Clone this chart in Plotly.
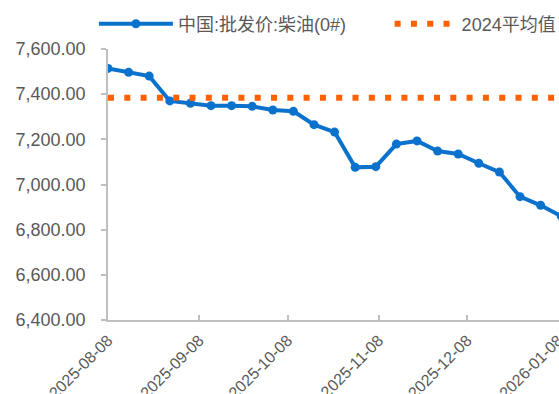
import plotly.graph_objects as go

# ---- data ----
dates = [
    "2025-08-08", "2025-08-15", "2025-08-22", "2025-08-29", "2025-09-05",
    "2025-09-12", "2025-09-19", "2025-09-26", "2025-10-03", "2025-10-10",
    "2025-10-17", "2025-10-24", "2025-10-31", "2025-11-07", "2025-11-14",
    "2025-11-21", "2025-11-28", "2025-12-05", "2025-12-12", "2025-12-19",
    "2025-12-26", "2026-01-02", "2026-01-09",
]
diesel = [
    7514, 7497, 7480, 7370, 7360,
    7349, 7349, 7346, 7330, 7324,
    7265, 7232, 7076, 7079, 7179,
    7193, 7148, 7135, 7094, 7055,
    6946, 6908, 6860,
]
avg_2024 = 7384
avg_dates = [dates[0], dates[-1]]
avg_values = [avg_2024, avg_2024]

series_name = "中国:批发价:柴油(0#)"
avg_name = "2024平均值"

BLUE = "#0A72CC"
ORANGE = "#FF6100"
GRAY_TXT = "#595959"
AXIS = "#BFBFBF"
FONT = "Liberation Sans, Arial, Noto Sans CJK SC, sans-serif"

fig = go.Figure()
fig.add_trace(go.Scatter(
    x=dates, y=diesel, name=series_name, mode="lines+markers",
    line=dict(color=BLUE, width=4),
    marker=dict(color=BLUE, size=9),
    legend="legend",
))
fig.add_trace(go.Scatter(
    x=avg_dates, y=avg_values, name=avg_name, mode="lines",
    line=dict(color=ORANGE, width=6, dash="6px,10.3px"),
    legend="legend2",
))

fig.update_layout(
    width=559, height=394,
    margin=dict(l=108, r=0, t=49, b=74, autoexpand=False),
    paper_bgcolor="white", plot_bgcolor="white",
    font=dict(family=FONT, size=18, color=GRAY_TXT),
    showlegend=True,
    legend=dict(
        orientation="h", xref="container", yref="container",
        x=0.168, y=1 - 24 / 394, xanchor="left", yanchor="middle",
        font=dict(size=18, color=GRAY_TXT), itemwidth=74,
        bgcolor="rgba(0,0,0,0)",
    ),
    legend2=dict(
        orientation="h", xref="container", yref="container",
        x=0.697, y=1 - 24 / 394, xanchor="left", yanchor="middle",
        font=dict(size=18, color=GRAY_TXT), itemwidth=62,
        bgcolor="rgba(0,0,0,0)",
    ),
    xaxis=dict(
        type="date",
        range=["2025-08-08", "2026-01-08 06:00"],
        tick0="2025-08-08", dtick="M1", tickformat="%Y-%m-%d",
        tickangle=-45, tickfont=dict(size=16, color=GRAY_TXT),
        ticks="inside", ticklen=5, tickcolor=AXIS, tickwidth=1.5,
        ticklabelstandoff=3, ticklabeloverflow="allow",
        showline=True, linecolor=AXIS, linewidth=1.5,
        showgrid=False, zeroline=False, automargin=False,
    ),
    yaxis=dict(
        range=[6400, 7600], dtick=200, tickformat=",.2f",
        tickfont=dict(size=18, color=GRAY_TXT),
        ticks="outside", ticklen=5, tickcolor=AXIS, tickwidth=1.5,
        ticklabelstandoff=12,
        showline=True, linecolor=AXIS, linewidth=1.5,
        showgrid=False, zeroline=False, automargin=False,
    ),
)

fig.write_html("out.html", config={"displayModeBar": False},
               post_script="document.body.style.margin='0';")
